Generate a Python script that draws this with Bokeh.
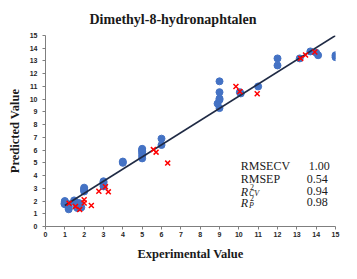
from bokeh.plotting import figure
from bokeh.models import Label, Range1d, FixedTicker
from bokeh.embed import file_html
from bokeh.resources import INLINE

# Calibration (blue) set
cal_x = [1.0, 1.0, 1.0, 1.0, 0.98, 1.2, 1.2, 1.2, 1.2, 1.48, 1.5,
         1.62, 1.68, 1.72, 1.78, 1.8, 1.85, 1.65,
         2.0, 2.0, 2.0, 2.0, 3.0, 3.0, 3.0, 3.0, 4.0, 4.0,
         5.0, 5.0, 5.0, 5.0, 5.0, 5.0, 6.0, 6.0,
         9.0, 8.9, 9.0, 9.0, 9.0, 9.0, 10.05, 10.1, 11.0, 12.0, 12.0,
         13.15, 13.7, 14.0, 14.1, 15.0, 15.0]
cal_y = [1.75, 1.85, 1.95, 2.0, 1.8, 1.35, 1.45, 1.6, 1.75, 2.05, 1.95,
         1.55, 1.7, 1.85, 1.6, 1.75, 1.5, 1.45,
         2.75, 2.85, 2.95, 3.05, 3.15, 3.3, 3.45, 3.55, 5.0, 5.1,
         5.35, 5.55, 5.75, 5.9, 6.0, 6.1, 6.4, 6.9,
         9.3, 9.65, 9.95, 10.05, 10.55, 11.4, 10.55, 10.45, 11.0, 12.65, 13.2,
         13.2, 13.75, 13.65, 13.45, 13.3, 13.45]

# Validation (red) set
val_x = [1.22, 1.55, 1.77, 2.0, 2.0, 2.37, 2.76, 3.1, 3.25, 5.58, 5.72, 6.32,
         9.85, 10.05, 10.95, 13.2, 13.45, 13.93]
val_y = [1.82, 1.58, 1.33, 2.1, 1.85, 1.65, 2.77, 3.12, 2.72, 6.04, 5.84, 4.98,
         11.0, 10.6, 10.43, 13.2, 13.47, 13.7]

# Regression line endpoints
fit_x = [1.0, 15.0]
fit_y = [1.65, 15.0]

ticks = list(range(0, 16))
stat_names = ["RMSECV", "RMSEP"]
stat_values = ["1.00", "0.54", "0.94", "0.98"]

serif = "Liberation Serif"

p = figure(width=341, height=263, output_backend="svg", toolbar_location=None,
           x_range=Range1d(0, 15), y_range=Range1d(0, 15),
           title="Dimethyl-8-hydronaphtalen",
           x_axis_label="Experimental Value", y_axis_label="Predicted Value",
           min_border_left=45, min_border_right=6, min_border_top=34, min_border_bottom=34)
p.border_fill_color = "white"
p.outline_line_color = None
p.xgrid.visible = False
p.ygrid.visible = False

p.title.align = "left"
p.title.offset = 44
p.title.text_font = serif
p.title.text_font_size = "14px"
p.title.text_font_style = "bold"
p.title.text_color = "#1a1a1a"
p.title.standoff = 18

for ax in (p.xaxis[0], p.yaxis[0]):
    ax.ticker = FixedTicker(ticks=ticks)
    ax.axis_line_color = "#7f7f7f"
    ax.major_tick_line_color = "#7f7f7f"
    ax.minor_tick_line_color = None
    ax.major_tick_out = 3
    ax.major_tick_in = 0
    ax.major_label_text_font = "Liberation Sans"
    ax.major_label_text_font_size = "7px"
    ax.major_label_text_font_style = "bold"
    ax.major_label_text_color = "#262626"
    ax.axis_label_text_font = serif
    ax.axis_label_text_font_size = "12.5px"
    ax.axis_label_text_font_style = "bold"
    ax.axis_label_text_color = "#1a1a1a"
p.xaxis.major_label_standoff = 2
p.yaxis.major_label_standoff = 5
p.xaxis.axis_label_standoff = 7
p.yaxis.axis_label_standoff = 5

p.scatter(cal_x, cal_y, marker="circle", size=7, fill_color="#4472C4", line_color="#4472C4")
p.line(fit_x, fit_y, line_color="#1f2a44", line_width=1.6)
p.scatter(val_x, val_y, marker="x", size=7, line_color="#FF0000", line_width=1.5)

def lab(text, x, y, size, style="normal", align="left"):
    p.add_layout(Label(x=x, y=y, text=text, text_font=serif, text_font_size=size,
                       text_font_style=style, text_align=align,
                       text_baseline="alphabetic", text_color="#1a1a1a"))

lab(stat_names[0], 10.1, 4.78, "12px")
lab(stat_names[1], 10.1, 3.73, "12px")
lab(stat_values[0], 14.7, 4.78, "12px", align="right")
lab(stat_values[1], 14.6, 3.73, "12px", align="right")
# R^2_CV
lab("R", 10.1, 2.7, "12px", "italic")
lab("2", 10.58, 3.13, "8px")
lab("CV", 10.52, 2.58, "8px", "italic")
lab(stat_values[2], 14.6, 2.77, "12px", align="right")
# R^2_P
lab("R", 10.1, 1.81, "12px", "italic")
lab("2", 10.58, 2.26, "8px")
lab("P", 10.52, 1.67, "8px", "italic")
lab(stat_values[3], 14.6, 1.92, "12px", align="right")

open("out.html", "w").write(file_html(p, INLINE))
